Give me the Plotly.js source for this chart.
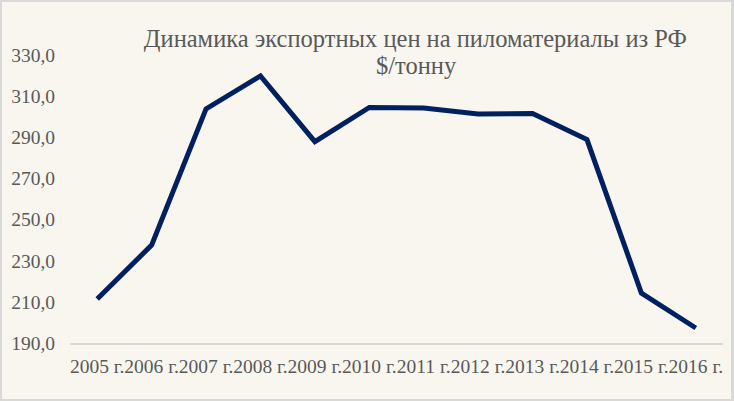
<!DOCTYPE html>
<html>
<head>
<meta charset="utf-8">
<script src="https://cdn.plot.ly/plotly-3.0.1.min.js"></script>
<style>
html,body{margin:0;padding:0;background:#d9d9d9;width:734px;height:401px;overflow:hidden;}
#chart{position:absolute;left:2px;top:2px;width:729px;height:397px;}
</style>
</head>
<body>
<div id="chart"></div>
<script>
const years = ["2005 г.","2006 г.","2007 г.","2008 г.","2009 г.","2010 г.","2011 г.","2012 г.","2013 г.","2014 г.","2015 г.","2016 г."];
const prices = [211.4, 237.6, 303.8, 319.8, 287.9, 304.5, 304.2, 301.3, 301.6, 288.9, 214.3, 197.3];
const yTicks = [190, 210, 230, 250, 270, 290, 310, 330];
const yTickText = ["190,0","210,0","230,0","250,0","270,0","290,0","310,0","330,0"];
const titleLine1 = "Динамика экспортных цен на пиломатериалы из РФ";
const titleLine2 = "$/тонну";

const fontFam = "Times New Roman, Liberation Serif, Tinos, Times, DejaVu Serif, serif";
const trace = {
  x: years, y: prices, type: "scatter", mode: "lines",
  line: {color: "#002060", width: 5, shape: "linear"},
  hoverinfo: "skip"
};
const layout = {
  width: 729, height: 397,
  paper_bgcolor: "#f8f6ef", plot_bgcolor: "#f8f6ef",
  margin: {l: 68, r: 8, t: 53, b: 56},
  showlegend: false,
  font: {family: fontFam},
  title: {
    text: titleLine1,
    font: {family: fontFam, size: 24.5, color: "#595959"},
    x: 0.567, xref: "container", xanchor: "center",
    y: 1 - 28/397, yref: "container", yanchor: "top"
  },
  annotations: [{
    text: titleLine2, showarrow: false,
    font: {family: fontFam, size: 24.5, color: "#595959"},
    xref: "paper", yref: "paper",
    x: (414 - 68) / 653, xanchor: "center",
    y: 1 - 10 / 288, yanchor: "middle"
  }],
  xaxis: {
    type: "category", range: [-0.5, 11.5],
    showgrid: false, zeroline: false,
    showline: true, linecolor: "#d9d9d9", linewidth: 2,
    ticks: "", ticklabelstandoff: 5, tickangle: 0,
    tickfont: {family: fontFam, size: 19.5, color: "#595959"},
    fixedrange: true
  },
  yaxis: {
    range: [190, 330], tickvals: yTicks, ticktext: yTickText,
    showgrid: false, zeroline: false, showline: false,
    ticks: "", ticklabelstandoff: 14,
    tickfont: {family: fontFam, size: 19.5, color: "#595959"},
    fixedrange: true
  }
};
Plotly.newPlot("chart", [trace], layout, {displayModeBar: false, staticPlot: true});
</script>
</body>
</html>
